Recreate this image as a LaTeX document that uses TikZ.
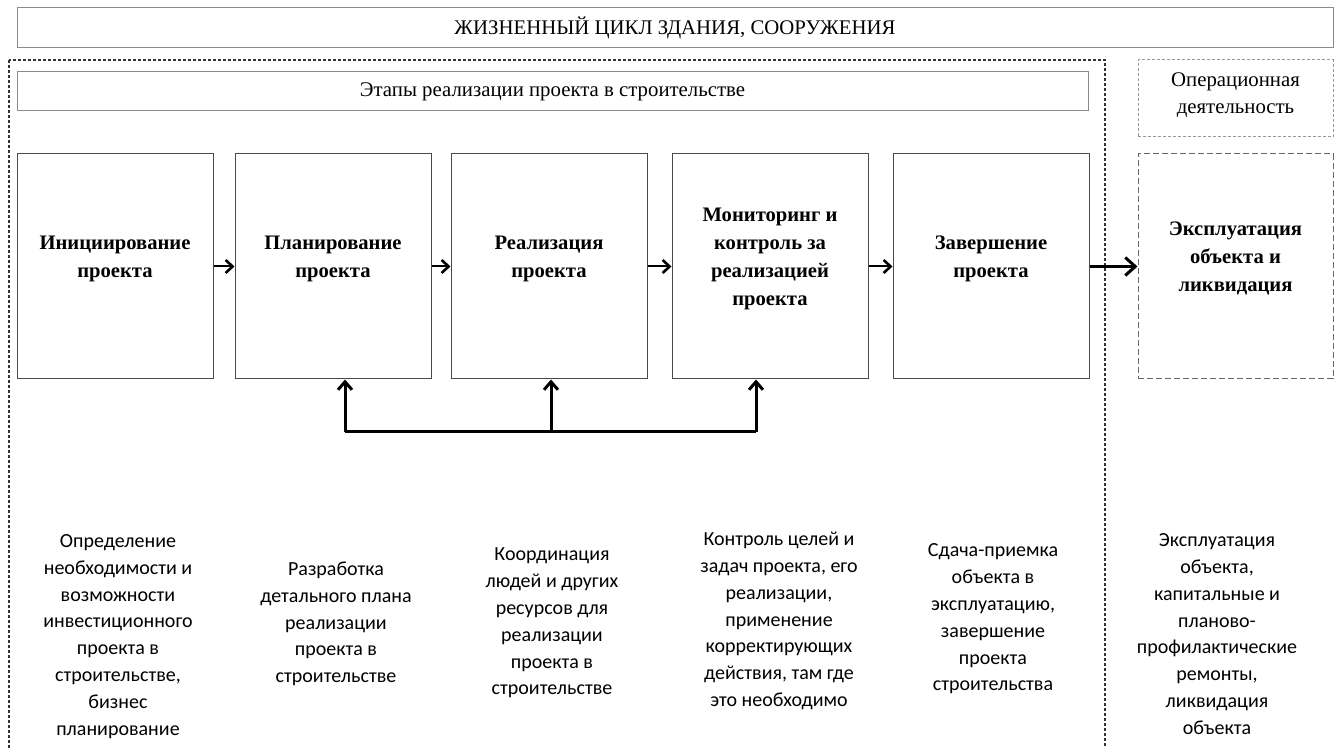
\documentclass[tikz,border=0pt]{standalone}
\usepackage{fontspec}
\setmainfont{Liberation Serif}
\newfontfamily\calib{Carlito}
\usepackage{tikz}
\usetikzlibrary{arrows.meta}
\definecolor{boxgray}{HTML}{8a8a8a}
\definecolor{stagegray}{HTML}{4a4a4a}
\definecolor{dashgray}{HTML}{333333}
\definecolor{lightdash}{HTML}{9a9a9a}
\definecolor{expldash}{HTML}{666666}

\begin{document}
\begin{tikzpicture}[x=0.5pt,y=-0.5pt,
    title/.style={draw=boxgray, line width=0.5pt, inner sep=0pt, font=\fontsize{10.4}{13.5}\selectfont, align=center},
    stage/.style={draw=stagegray, line width=0.5pt, inner sep=0pt, minimum width=98pt, minimum height=112.5pt},
    stagetext/.style={font=\fontsize{10.3}{14}\selectfont\bfseries, align=center, yshift=4pt},
    desc/.style={font=\calib\fontsize{10}{13.4}\selectfont, align=center, inner sep=0pt},
    nextarrow/.style={line width=1pt, -{Straight Barb[length=3.5pt,width=6.5pt,line width=1.3pt]}},
    feedback/.style={line width=1.5pt, -{Straight Barb[length=4pt,width=7pt,line width=1.5pt]}}]
    \useasboundingbox (0,0) rectangle (1340,748);
    \clip (0,0) rectangle (1340,748);

    \node (life) at (675,28) [title, minimum width=658pt, minimum height=20pt]{ЖИЗНЕННЫЙ ЦИКЛ ЗДАНИЯ, СООРУЖЕНИЯ};

    \draw[dashgray, line width=0.6pt, dash pattern=on 1.5pt off 1pt] (9,60) rectangle (1105,770);

    \node (phases) at (552.5,91.5) [title, minimum width=535.5pt, minimum height=19.5pt]{Этапы реализации проекта в строительстве};
    \node (oper) at (1235.5,98.5) [title, draw=lightdash, dash pattern=on 1.5pt off 1pt, minimum width=97.5pt, minimum height=38.5pt,
        label={[font=\fontsize{10.4}{13.5}\selectfont, align=center, yshift=1.5pt]center:Операционная\\деятельность}]{};

    \node (init) at (115,266.5) [stage, label={[stagetext]center:Инициирование\\проекта}]{};
    \node (plan) at (333,266.5) [stage, label={[stagetext]center:Планирование\\проекта}]{};
    \node (real) at (549,266.5) [stage, label={[stagetext]center:Реализация\\проекта}]{};
    \node (monit) at (770,266.5) [stage, label={[stagetext]center:Мониторинг и\\контроль за\\реализацией\\проекта}]{};
    \node (finish) at (991,266.5) [stage, label={[stagetext]center:Завершение\\проекта}]{};
    \node (expl) at (1235.5,266.5) [stage, draw=expldash, dash pattern=on 3pt off 1.5pt, minimum width=97.5pt,
        label={[stagetext]center:Эксплуатация\\объекта и\\ликвидация}]{};

     \draw[nextarrow] (init.east) -- (plan.west);
     \draw[nextarrow] (plan.east) -- (real.west);
     \draw[nextarrow] (real.east) -- (monit.west);
     \draw[nextarrow] (monit.east) -- (finish.west);
     \draw[nextarrow, line width=1.4pt, -{Straight Barb[length=5pt,width=9pt,line width=1.5pt]}] (finish.east) -- (expl.west);

     % return loop under the stages
     \coordinate (fbl) at (345,432);
     \coordinate (fbm) at (551,432);
     \coordinate (fbr) at (756,432);
     \draw[line width=1.5pt] (fbl) -- (fbr);
     \draw[feedback] (fbl) -- (fbl |- plan.south);
     \draw[feedback] (fbm) -- (fbm |- real.south);
     \draw[feedback] (fbr) -- (fbr |- monit.south);

    \node (initdesc) at (118,636.5) [desc]{Определение\\необходимости и\\возможности\\инвестиционного\\проекта в\\строительстве,\\бизнес\\планирование};
    \node (plandesc) at (336,624) [desc]{Разработка\\детального плана\\реализации\\проекта в\\строительстве};
    \node (realdesc) at (552,623) [desc]{Координация\\людей и других\\ресурсов для\\реализации\\проекта в\\строительстве};
    \node (monitdesc) at (779,621) [desc]{Контроль целей и\\задач проекта, его\\реализации,\\применение\\корректирующих\\действия, там где\\это необходимо};
    \node (finishdesc) at (993,619) [desc]{Сдача-приемка\\объекта в\\эксплуатацию,\\завершение\\проекта\\строительства};
    \node (expldesc) at (1217,634) [desc]{Эксплуатация\\объекта,\\капитальные и\\планово-\\профилактические\\ремонты,\\ликвидация\\объекта};
  \end{tikzpicture}
\end{document}
